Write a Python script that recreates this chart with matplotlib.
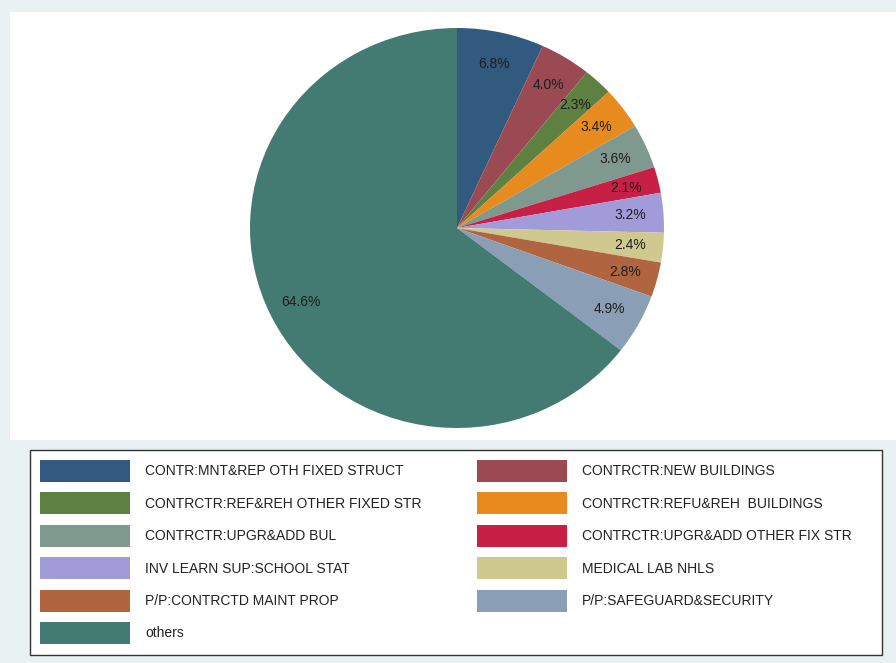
import matplotlib.pyplot as plt
from matplotlib.patches import Rectangle

labels = ['CONTR:MNT&REP OTH FIXED STRUCT', 'CONTRCTR:NEW BUILDINGS',
          'CONTRCTR:REF&REH OTHER FIXED STR', 'CONTRCTR:REFU&REH  BUILDINGS',
          'CONTRCTR:UPGR&ADD BUL', 'CONTRCTR:UPGR&ADD OTHER FIX STR',
          'INV LEARN SUP:SCHOOL STAT', 'MEDICAL LAB NHLS',
          'P/P:CONTRCTD MAINT PROP', 'P/P:SAFEGUARD&SECURITY', 'others']
shares = [6.8, 4.0, 2.3, 3.4, 3.6, 2.1, 3.2, 2.4, 2.8, 4.9, 64.6]
colors = ['#325a7e', '#9b4a54', '#5e8142', '#e88b1e', '#7f998e', '#c81f46',
          '#a29bd9', '#d0c98f', '#b0643f', '#8a9fb5', '#437b72']

fig = plt.figure(figsize=(8.96, 6.63), dpi=100, facecolor='#eaf1f2')
ax = fig.add_axes([10/896, 1-440/663, 886/896, 428/663])
ax.set_facecolor('white')

wedges, texts, autotexts = ax.pie(shares, colors=colors, startangle=90, counterclock=False,
                                  autopct='%.1f%%', pctdistance=0.84,
                                  textprops={'fontsize': 10, 'color': '#1e1e1e',
                                             'family': 'Liberation Sans'})
# show the values as read, not renormalised
for t, v in zip(autotexts, shares):
    t.set_text(f'{v:.1f}%')

ax.set_aspect('auto')
ax.set_xlim(-447/207, 439/207)
ax.set_ylim(-212/200, 216/200)
ax.set_xticks([])
ax.set_yticks([])
ax.set_frame_on(True)
for s in ax.spines.values():
    s.set_visible(False)
ax.patch.set_visible(True)

# legend box
fig.patches.append(Rectangle((30/896, 1-655/663), 852/896, 205/663, transform=fig.transFigure,
                             facecolor='white', edgecolor='#333333', linewidth=1.0))

font = {'family': 'Liberation Sans', 'size': 10}
legkw = dict(frameon=False, loc='upper left', borderpad=0, borderaxespad=0,
             handlelength=6.5, handleheight=2.06, handletextpad=1.08,
             labelspacing=0.75, prop=font, labelcolor='#222222')
left = [wedges[i] for i in range(0, 11, 2)]
right = [wedges[i] for i in range(1, 11, 2)]
fig.legend(left, [labels[i] for i in range(0, 11, 2)],
           bbox_to_anchor=(40/896, 1-460/663), **legkw)
fig.legend(right, [labels[i] for i in range(1, 11, 2)],
           bbox_to_anchor=(477/896, 1-460/663), **legkw)

plt.savefig('out.png', dpi=100, facecolor=fig.get_facecolor())
